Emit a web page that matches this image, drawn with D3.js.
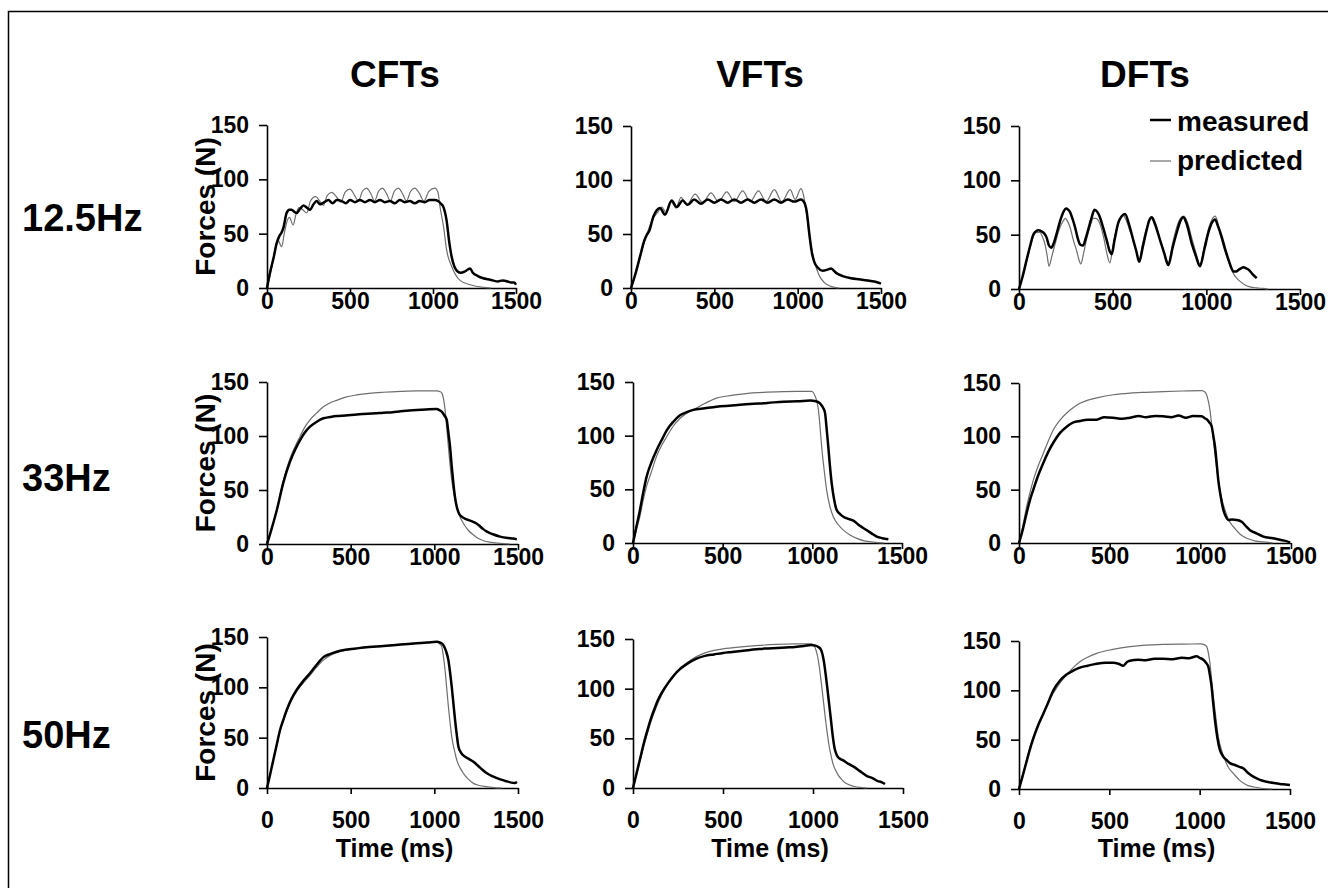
<!DOCTYPE html>
<html lang="en">
<head>
<meta charset="utf-8">
<title>Forces - measured vs predicted</title>
<script src="https://d3js.org/d3.v7.min.js"></script>
<style>
body { margin: 0; background: #fff; }
svg { display: block; }
.axis path,
.axis line {
    fill: none;
    stroke: #000;
    stroke-width: 1.6;
}
.axis text {
    font: bold 23px "Liberation Sans", Arial, sans-serif;
    fill: #000;
}
.lbl {
    font-family: "Liberation Sans", Arial, sans-serif;
    font-weight: bold;
    fill: #000;
}
.measured { fill: none; stroke: #000; stroke-width: 2.5; }
.predicted { fill: none; stroke: #6e6e6e; stroke-width: 1.2; }
</style>
</head>
<body>
<script>
// column / row categories and tick labels
var columns = ["CFTs", "VFTs", "DFTs"];
var rows = ["12.5Hz", "33Hz", "50Hz"];
var forceTicks = [0, 50, 100, 150];
var timeTicks = [0, 500, 1000, 1500];
var legendLabels = ["measured", "predicted"];

// [time ms, force N]
var cft12Meas = [[0,0],[18,14],[40,28],[58,41],[75,48],[88,51],[100,56],[118,69],[135,72],[148,72],[165,70],[178,69],[200,73],[219,76],[240,74],[259,72],[280,77],[299,80],[320,77],[345,79],[370,81],[395,78],[420,81],[450,80],[475,78],[500,81],[530,79],[560,81],[590,79],[620,81],[650,79],[680,81],[710,79],[740,80],[770,78],[800,81],[830,79],[860,80],[890,78],[920,80],[950,79],[980,81],[1010,81],[1030,80],[1045,78],[1064,74],[1082,62],[1098,42],[1112,29],[1128,20],[1143,16],[1165,14],[1190,15],[1210,17],[1223,18],[1240,14],[1270,11],[1303,9],[1330,8],[1360,7],[1390,6],[1420,7],[1450,6],[1470,5],[1490,5],[1500,3]];
var cft12Pred = [[0,0],[8,5],[30,20],[48,35],[66,44],[88,38],[104,50],[118,60],[135,65],[157,58],[175,68],[193,74],[215,72],[239,69],[262,80],[293,84],[318,80],[340,76],[362,85],[390,88],[418,84],[445,79],[470,88],[500,91],[525,86],[550,80],[575,89],[600,92],[625,87],[648,80],[672,89],[695,92],[720,87],[743,80],[767,89],[791,92],[816,87],[840,80],[865,89],[890,92],[918,87],[945,80],[975,89],[1012,92],[1030,88],[1042,75],[1064,56],[1082,35],[1112,20],[1163,7],[1223,3],[1303,0.5],[1350,0]];

var vft12Meas = [[0,0],[30,15],[54,29],[80,44],[94,49],[110,53],[134,66],[154,72],[174,74],[204,68],[244,81],[274,75],[310,81],[340,77],[380,82],[420,78],[460,82],[500,79],[540,82],[580,79],[620,82],[660,79],[700,82],[740,79],[780,82],[820,79],[860,82],[900,79],[940,82],[980,80],[1020,82],[1040,79],[1055,70],[1070,50],[1085,33],[1100,24],[1120,19],[1150,16],[1180,17],[1200,18],[1230,14],[1270,11],[1320,9],[1370,8],[1420,7],[1460,6],[1500,4]];
var vft12Pred = [[0,0],[30,14],[54,28],[80,43],[100,52],[130,64],[160,70],[185,75],[210,70],[240,80],[270,74],[300,84],[335,77],[385,87],[430,79],[480,88],[525,80],[575,89],[620,80],[670,90],[715,80],[765,90],[810,80],[860,91],[905,80],[955,91],[985,82],[1020,92],[1035,86],[1050,72],[1065,55],[1080,40],[1100,25],[1125,13],[1160,5],[1200,1.5],[1250,0]];

var dft12Meas = [[0,0],[20,12],[41,27],[60,40],[76,50],[90,53],[103,54],[120,53],[135,51],[148,47],[160,40],[172,38],[185,42],[201,51],[215,60],[228,67],[240,72],[251,74],[262,73],[272,71],[285,65],[299,57],[313,47],[326,41],[342,40],[355,46],[370,55],[388,66],[403,73],[418,71],[432,66],[450,56],[468,45],[486,34],[495,32],[510,45],[530,61],[548,67],[566,69],[588,59],[610,45],[626,35],[642,25],[660,38],[681,54],[695,63],[708,66],[725,60],[753,45],[775,33],[797,22],[820,38],[842,52],[860,62],[877,66],[895,60],[922,42],[945,30],[966,21],[990,37],[1011,52],[1030,61],[1046,64],[1062,58],[1082,48],[1100,37],[1118,27],[1132,20],[1145,16],[1160,16],[1171,17.5],[1185,19],[1198,20],[1212,19],[1224,18],[1245,14],[1269,10]];
var dft12Pred = [[0,0],[20,12],[41,26],[60,39],[76,48],[95,52],[112,52],[125,48],[139,41],[150,31],[160,21],[175,30],[192,41],[215,55],[237,63],[248,65],[260,62],[272,57],[290,45],[308,35],[320,27],[330,23],[345,33],[361,46],[380,58],[397,65],[410,65],[432,60],[455,45],[470,32],[485,24],[500,38],[513,50],[535,62],[555,68],[575,62],[595,52],[610,45],[626,35],[640,26],[660,42],[681,56],[700,64],[714,66],[730,60],[755,44],[780,31],[797,24],[820,42],[842,57],[862,65],[881,67],[900,61],[922,47],[945,33],[966,22],[990,40],[1011,55],[1030,64],[1046,67],[1060,62],[1073,51],[1090,40],[1109,30],[1128,21],[1145,14],[1162,10],[1180,7],[1205,4],[1233,2],[1270,1],[1304,0.5],[1330,0]];

var cft33Meas = [[0,0],[20,10],[58,31],[98,57],[137,76],[170,88],[197,96],[225,103],[257,108.6],[295,113],[337,116.4],[375,117.5],[416,118.5],[470,119],[536,120],[600,120.5],[650,121],[695,121.6],[750,122],[800,123],[850,123.5],[895,124],[950,124.5],[1014,125],[1030,124],[1044,122.5],[1060,119],[1074,115],[1084,103],[1094,90],[1104,72],[1114,56],[1124,43],[1134,34.5],[1148,28],[1164,25.3],[1190,23],[1214,21.6],[1240,20],[1264,17.6],[1290,14],[1314,11.4],[1350,9],[1393,6.8],[1440,5.5],[1470,5],[1493,4.3]];
var cft33Pred = [[0,0],[20,10],[58,31.5],[98,59],[137,79],[170,91],[197,99.4],[225,108],[257,115],[295,121],[337,127],[375,130.5],[416,133],[470,136],[536,138],[610,139.5],[695,140.5],[800,141.3],[895,141.7],[1014,141.7],[1035,141],[1044,140],[1054,135],[1064,124.4],[1074,108],[1084,90],[1094,73],[1104,59],[1119,45],[1134,34.5],[1154,25],[1174,19],[1204,12.5],[1234,8.3],[1264,5],[1294,3],[1340,1.5],[1393,0.5],[1450,0]];

var vft33Meas = [[0,0],[15,12],[39,31],[57,47],[76,61.8],[100,74],[132,86.7],[160,96],[188,105],[225,113],[262,119],[300,122],[336,124],[400,125.5],[466,127],[550,128],[652,129.5],[750,130.5],[838,131.7],[920,132],[987,132.7],[1020,132],[1043,130],[1060,126],[1071,121],[1080,106],[1089,89.7],[1098,72],[1108,55.6],[1120,42],[1136,30.7],[1155,27],[1173,24.5],[1200,22.5],[1229,20.8],[1265,16],[1303,12],[1330,9],[1359,6],[1390,4.5],[1424,3.4]];
var vft33Pred = [[0,0],[15,10],[39,25],[57,40],[76,53],[100,65],[132,81],[160,91],[188,99],[225,109],[262,116],[300,121],[336,124],[400,130],[466,135],[550,137.5],[652,139.7],[750,140.5],[838,141],[920,141.2],[997,141.3],[1006,140],[1015,137],[1025,132],[1034,124],[1043,108],[1052,89.7],[1066,68],[1080,49],[1098,34],[1117,24.5],[1145,17],[1173,12],[1210,7.5],[1248,4.3],[1290,2],[1340,0.8],[1400,0]];

var dft33Meas = [[0,0],[20,12],[42,28],[60,40],[79,50],[105,63],[134,75],[160,85],[189,94],[225,103],[263,109],[300,113],[336,114.4],[380,115.5],[428,115.6],[470,118],[520,117.5],[570,116.5],[612,117.5],[660,119],[700,118],[750,119],[796,118.8],[840,118],[880,119.5],[920,117.5],[960,119],[1008,118.8],[1025,117],[1035,116],[1050,113],[1063,109],[1072,100],[1081,90],[1090,75],[1099,59],[1112,44],[1127,31],[1140,25],[1154,21.6],[1175,22],[1200,21.6],[1228,20],[1250,16],[1274,12],[1310,9],[1348,6],[1400,4.5],[1440,3],[1470,2],[1495,0.5]];
var dft33Pred = [[0,0],[20,15],[42,34],[60,47],[79,59],[105,72],[134,84],[160,95],[189,106],[225,115],[263,121.9],[300,127],[336,131],[380,134],[428,136],[520,139],[612,140.6],[700,141.3],[796,141.9],[900,142.5],[1008,142.8],[1025,141.5],[1035,138.8],[1044,133],[1053,124.7],[1062,112],[1072,96.6],[1085,77],[1099,59],[1117,42],[1136,31],[1158,21],[1182,15.3],[1218,8.5],[1256,4.4],[1300,2],[1348,1],[1400,0]];

var cft50Meas = [[0,0],[18,13],[38,28],[58,43],[78,57.6],[98,68],[118,77.5],[145,88],[177,97.4],[215,106],[257,114],[297,122.5],[337,130],[375,133],[416,135.4],[470,137.3],[536,138.7],[610,140],[695,141],[800,142.5],[895,143.7],[960,144.5],[1014,145.3],[1035,144.5],[1054,142],[1070,136],[1084,127],[1094,115],[1104,100.6],[1114,84],[1124,67.5],[1134,53],[1144,41],[1160,35],[1184,31],[1210,28.5],[1234,26],[1275,20],[1314,14.6],[1350,11.5],[1394,8.6],[1425,7],[1454,5.6],[1480,5],[1494,6]];
var cft50Pred = [[0,0],[18,13],[38,28],[58,43],[78,57],[98,67],[118,76.5],[145,87],[177,95.7],[215,104],[257,112],[297,120],[337,127],[375,131.5],[416,134.5],[470,136.8],[536,138.5],[610,140],[695,141.3],[800,142.8],[895,144],[960,144.8],[1014,145.3],[1030,143.5],[1044,140.4],[1054,131],[1064,117.2],[1074,99],[1084,80.8],[1094,65],[1104,51],[1119,38],[1134,27.8],[1154,20],[1174,14.6],[1204,8.5],[1234,4.6],[1270,2.5],[1314,1.3],[1360,0.3],[1400,0]];

var vft50Meas = [[0,0],[20,15],[40,30],[60,45],[80,58],[100,70],[120,80],[140,89],[160,96],[200,107],[250,118],[300,125],[350,130],[400,133],[450,134.5],[500,136],[550,137],[600,138],[650,139],[700,140],[750,140.5],[800,141],[850,141.5],[900,142],[950,143],[990,144],[1010,143.5],[1030,142],[1045,139],[1060,128],[1070,115],[1080,100],[1090,84],[1100,68],[1110,52],[1120,40],[1130,34],[1145,30],[1165,28],[1200,24],[1230,21],[1260,17],[1300,12],[1330,10],[1360,7],[1380,6],[1400,4]];
var vft50Pred = [[0,0],[20,14],[40,28],[60,42],[80,55],[100,67],[120,77],[140,86],[160,94],[200,106],[250,118],[300,126],[350,132],[400,136],[450,138.5],[500,140],[600,142],[700,143.5],[800,144.5],[900,145],[990,145],[1005,143.5],[1018,138],[1030,128],[1040,115],[1050,100],[1060,84],[1070,68],[1080,54],[1090,42],[1100,33],[1110,25],[1125,18],[1140,13],[1160,8.5],[1180,5],[1205,3],[1230,1.5],[1270,0.5],[1300,0]];

var dft50Meas = [[0,0],[20,13],[42,28],[60,40],[79,51],[105,64],[134,76],[160,87],[190,100],[227,110],[263,116],[300,120],[337,123],[380,125],[430,127],[480,128],[522,128],[550,127],[577,125],[600,129],[614,130],[660,131],[700,130.5],[750,132],[798,132],[850,131.5],[900,133],[940,132.5],[983,134.5],[1000,133],[1020,131],[1035,128],[1048,124],[1057,115],[1066,103.7],[1075,87],[1085,69.4],[1098,52],[1112,39.5],[1130,33],[1149,29.4],[1170,26],[1195,24.3],[1220,22.5],[1241,21],[1270,16],[1297,12.5],[1330,9.5],[1371,7.4],[1410,6],[1445,5],[1475,4.5],[1500,4]];
var dft50Pred = [[0,0],[20,14],[42,29.4],[60,42],[79,53],[105,66],[134,76.7],[160,87],[190,97],[225,107],[263,115.5],[300,123],[337,129],[380,133.5],[430,137.5],[520,141.5],[614,144.3],[700,145.8],[798,146.6],[900,146.9],[1006,147],[1025,146.3],[1039,144.3],[1048,138],[1057,127.4],[1066,111],[1076,93.5],[1090,72],[1103,53],[1120,40],[1140,29.4],[1162,21],[1186,15.9],[1220,9],[1260,4],[1300,2],[1352,0.5],[1400,0]];

// pixel box of each panel (left, right, bottom, top)
var panels = [
    {row: 0, col: 0, meas: cft12Meas, pred: cft12Pred, x0: 267, x1: 516, y0: 288, y1: 125},
    {row: 0, col: 1, meas: vft12Meas, pred: vft12Pred, x0: 631, x1: 881, y0: 288, y1: 126},
    {row: 0, col: 2, meas: dft12Meas, pred: dft12Pred, x0: 1019, x1: 1300, y0: 289, y1: 126},
    {row: 1, col: 0, meas: cft33Meas, pred: cft33Pred, x0: 267, x1: 518, y0: 544, y1: 382},
    {row: 1, col: 1, meas: vft33Meas, pred: vft33Pred, x0: 633, x1: 902, y0: 543, y1: 382},
    {row: 1, col: 2, meas: dft33Meas, pred: dft33Pred, x0: 1019, x1: 1291, y0: 543, y1: 383},
    {row: 2, col: 0, meas: cft50Meas, pred: cft50Pred, x0: 267, x1: 518, y0: 788, y1: 637},
    {row: 2, col: 1, meas: vft50Meas, pred: vft50Pred, x0: 633, x1: 903, y0: 788, y1: 639},
    {row: 2, col: 2, meas: dft50Meas, pred: dft50Pred, x0: 1019, x1: 1290, y0: 789, y1: 641}
];

var W = 1328, H = 888;
var svg = d3.select("body").append("svg")
    .attr("width", W)
    .attr("height", H);

// outer frame (only top and left edges fall inside the picture)
svg.append("rect")
    .attr("x", 8.5).attr("y", 11.5)
    .attr("width", 2000).attr("height", 2000)
    .attr("fill", "none")
    .attr("stroke", "#000")
    .attr("stroke-width", 1.5);

// column titles
var titleX = [395, 760, 1145];
svg.selectAll(".coltitle")
    .data(columns)
  .enter().append("text")
    .attr("class", "lbl coltitle")
    .attr("x", function(d, i) { return titleX[i]; })
    .attr("y", 87)
    .attr("text-anchor", "middle")
    .style("font-size", "37px")
    .text(function(d) { return d; });

// row labels
var rowY = [231, 491, 748];
svg.selectAll(".rowlabel")
    .data(rows)
  .enter().append("text")
    .attr("class", "lbl rowlabel")
    .attr("x", 22)
    .attr("y", function(d, i) { return rowY[i]; })
    .style("font-size", "38px")
    .text(function(d) { return d; });

var fmt = d3.format("d");

panels.forEach(function(p) {
    var x = d3.scaleLinear().domain([0, 1500]).range([p.x0, p.x1]);
    var y = d3.scaleLinear().domain([0, 150]).range([p.y0, p.y1]);

    var line = d3.line()
        .x(function(d) { return x(d[0]); })
        .y(function(d) { return y(d[1]); })
        .curve(d3.curveMonotoneX);

    // Y axis
    svg.append("g")
        .attr("class", "axis")
        .attr("transform", "translate(" + p.x0 + ",0)")
        .call(d3.axisLeft(y).tickValues(forceTicks).tickFormat(fmt)
            .tickSize(8).tickPadding(10).tickSizeOuter(0));

    // X axis, bottom row has its labels pushed down
    var pad = p.row === 2 ? 18 : -1;
    svg.append("g")
        .attr("class", "axis")
        .attr("transform", "translate(0," + p.y0 + ")")
        .call(d3.axisBottom(x).tickValues(timeTicks).tickFormat(fmt)
            .tickSize(6).tickPadding(pad).tickSizeOuter(0));

    svg.append("path")
        .attr("class", "predicted")
        .attr("d", line(p.pred));
    svg.append("path")
        .attr("class", "measured")
        .attr("d", line(p.meas));

    if (p.col === 0) {
        svg.append("text")
            .attr("class", "lbl")
            .attr("text-anchor", "middle")
            .attr("transform", "translate(215," + ((p.y0 + p.y1) / 2) + ") rotate(-90)")
            .style("font-size", "28px")
            .text("Forces (N)");
    }
    if (p.row === 2) {
        svg.append("text")
            .attr("class", "lbl")
            .attr("text-anchor", "middle")
            .attr("x", (p.x0 + p.x1) / 2 + 2)
            .attr("y", 857)
            .style("font-size", "25px")
            .text("Time (ms)");
    }
});

// legend in the top right panel
var legY = [120, 161];
var legText = [131, 170];
var leg = svg.selectAll(".leg")
    .data(legendLabels)
  .enter().append("g")
    .attr("class", "leg");
leg.append("line")
    .attr("class", function(d, i) { return i === 0 ? "measured" : "predicted"; })
    .attr("x1", 1150).attr("x2", 1171)
    .attr("y1", function(d, i) { return legY[i]; })
    .attr("y2", function(d, i) { return legY[i]; });
leg.append("text")
    .attr("class", "lbl")
    .attr("x", 1177)
    .attr("y", function(d, i) { return legText[i]; })
    .style("font-size", "28px")
    .text(function(d) { return d; });
</script>
</body>
</html>
